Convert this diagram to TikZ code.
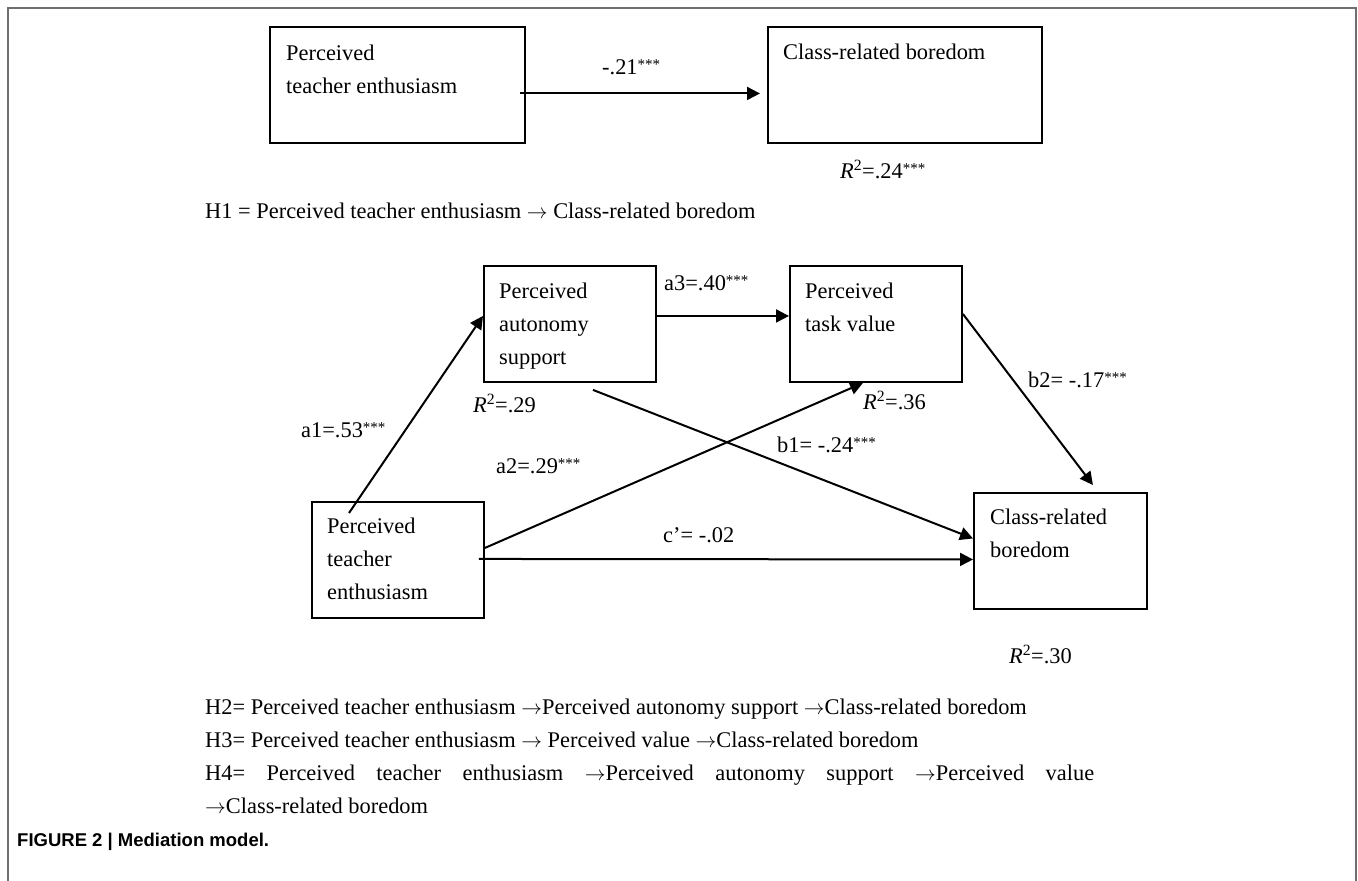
\documentclass[tikz,border=0pt]{standalone}
\usepackage{fontspec}
\setmainfont{Liberation Serif}
\newfontfamily\capfont{Liberation Sans}
\usetikzlibrary{arrows.meta,calc}
\definecolor{framegray}{HTML}{6E6E6E}
\newcommand{\sig}{\raisebox{4.5pt}{\fontsize{15}{15}\selectfont ***}}
\newcommand{\imp}{$\rightarrow$}

\begin{document}
\begin{tikzpicture}[x=1pt,y=-1pt,
	box/.style={draw, line width=1.9pt, anchor=north west, inner sep=0pt},
	bigbox/.style={box, minimum width=255pt, minimum height=116pt},
	smallbox/.style={box, minimum width=172pt, minimum height=116pt},
	txt/.style={font=\fontsize{22.4}{33}\selectfont, inner sep=0pt, align=left},
	arr/.style={line width=2pt, -{Triangle[length=13pt,width=13pt]}}]

	\useasboundingbox (0,0) rectangle (1358,881);

	% frame

	\draw[framegray, line width=1.5pt] (8,881) -- (8,8) -- (1356,8) -- (1356,881);

	% direct effect (H1)

	\node[bigbox] (ente) at (269,26) {};
	\node[bigbox, minimum width=274pt] (ecrb) at (767,26) {};
	\node[txt, anchor=north west] (ente-t) at ($(ente.north west)+(17,19)$) {Perceived\\teacher enthusiasm};
	\node[txt, anchor=north west] (ecrb-t) at ($(ecrb.north west)+(16,18)$) {Class-related boredom};

	\draw[arr] ($(ente.east)+(-6,8.5)$) -- ($(ecrb.west)+(-7,8.5)$);

	\node[txt, anchor=base west] (lc) at (602,74) {-.21\sig};
	\node[txt, anchor=base west] (rc) at (840,178) {\textit{R}\textsuperscript{2}=.24\sig};
	\node[txt, anchor=base west] (h1) at (205,218) {H1 = Perceived teacher enthusiasm \imp{} Class-related boredom};

	% mediation model

	\node[smallbox] (pte) at (311,501) {};
	\node[smallbox] (pas) at (483,265) {};
	\node[smallbox] (ptv) at (789,265) {};
	\node[smallbox, minimum width=173pt] (crb) at (973,492) {};

	\node[txt, anchor=north west] (pte-t) at ($(pte.north west)+(16,17)$) {Perceived\\teacher\\enthusiasm};
	\node[txt, anchor=north west] (pas-t) at ($(pas.north west)+(16,18)$) {Perceived\\autonomy\\support};
	\node[txt, anchor=north west] (ptv-t) at ($(ptv.north west)+(16,18)$) {Perceived\\task value};
	\node[txt, anchor=north west] (crb-t) at ($(crb.north west)+(17,17)$) {Class-related\\boredom};

	% paths

	\draw[arr] ($(pte.north west)+(38,12)$) -- ($(pas.west)+(0,-8)$);
	\draw[arr] ($(pas.east)+(0,-8)$) -- ($(ptv.west)+(0,-8)$);
	\draw[arr] ($(pte.east)+(0,-12)$) -- ($(ptv.south west)+(74,0)$);
	\draw[arr] ($(pas.south)+(23,7)$) -- ($(crb.west)+(0,-12.5)$);
	\draw[arr] ($(ptv.east)+(0,-10)$) -- ($(crb.north)+(32.5,-7)$);
	\draw[arr] ($(pte.east)+(-6,-1)$) -- ($(crb.west)+(0,8.5)$);

	% coefficients

	\node[txt, anchor=base west] (la1) at (301,437) {a1=.53\sig};
	\node[txt, anchor=base west] (la2) at (496,473) {a2=.29\sig};
	\node[txt, anchor=base west] (la3) at (664,290) {a3=.40\sig};
	\node[txt, anchor=base west] (lb1) at (777,452) {b1= -.24\sig};
	\node[txt, anchor=base west] (lb2) at (1028,387) {b2= -.17\sig};
	\node[txt, anchor=base west] (lc2) at (663,542) {c’= -.02};

	\node[txt, anchor=base west] (rpas) at (473,412) {\textit{R}\textsuperscript{2}=.29};
	\node[txt, anchor=base west] (rptv) at (863,409) {\textit{R}\textsuperscript{2}=.36};
	\node[txt, anchor=base west] (rcrb) at (1009,663) {\textit{R}\textsuperscript{2}=.30};

	% hypotheses

	\node[txt, anchor=base west] (h2) at (205,714) {H2= Perceived teacher enthusiasm \imp{}Perceived autonomy support \imp{}Class-related boredom};
	\node[txt, anchor=base west] (h3) at (205,747) {H3= Perceived teacher enthusiasm \imp{} Perceived value \imp{}Class-related boredom};
	\node[txt, anchor=base west] (h4) at (205,780) {\makebox[889pt][s]{H4= Perceived teacher enthusiasm \imp{}Perceived autonomy support \imp{}Perceived value}};
	\node[txt, anchor=base west] (h4b) at (205,813) {\imp{}Class-related boredom};

	% caption

	\node[inner sep=0pt, anchor=base west, font=\capfont\bfseries\fontsize{18.5}{20}\selectfont] (cap) at (17,846) {FIGURE 2 | Mediation model.};

\end{tikzpicture}
\end{document}
